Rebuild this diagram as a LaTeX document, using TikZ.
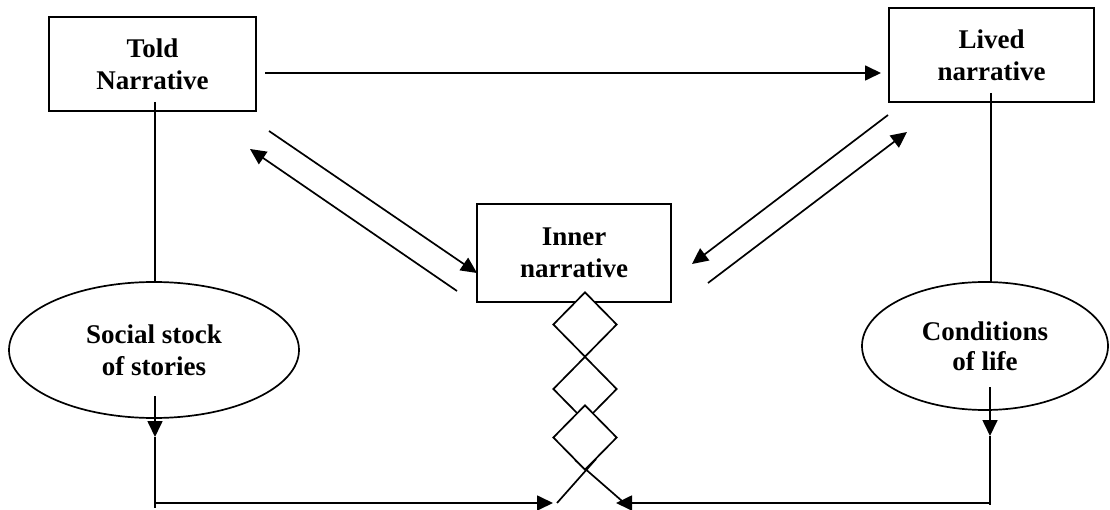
\documentclass[tikz,border=0pt]{standalone}
\usepackage{fontspec}
\setmainfont{Liberation Serif}
\usetikzlibrary{arrows.meta,shapes.geometric}
\tikzset{
  lbl/.style={font=\fontsize{27}{32}\selectfont\bfseries, align=center},
  boxn/.style={lbl, draw, line width=1.7pt, inner sep=0pt},
  ell/.style={lbl, draw, ellipse, line width=1.7pt, inner sep=0pt},
  dia/.style={draw, fill=white, line width=1.7pt, inner sep=0pt, minimum width=64pt, minimum height=65pt, diamond, shape aspect=1},
  ln/.style={line width=1.7pt},
  arr/.style={line width=1.7pt, -{Triangle[length=16pt,width=15pt]}}
}
\begin{document}
\begin{tikzpicture}[x=1pt,y=-1pt]
\useasboundingbox (0,0) rectangle (1110,510);
% boxes
\node[boxn, minimum width=207pt, minimum height=94pt] (told) at (152.5,64) {Told\\Narrative};
\node[boxn, minimum width=205pt, minimum height=94pt] (lived) at (991.5,55) {Lived\\narrative};
\node[boxn, minimum width=194pt, minimum height=98pt] (inner) at (574,253) {Inner\\narrative};
% ellipses
\node[ell, minimum width=290pt, minimum height=136pt] (social) at (154,350) {Social stock\\of stories};
\node[ell, minimum width=246pt, minimum height=128pt, font=\fontsize{27}{30}\selectfont\bfseries] (cond) at (985,346) {Conditions\\of life};
% vertical lines from boxes to ellipses
\coordinate (t1) at (155,102);
\coordinate (l1) at (991,93);
\draw[ln] (t1) -- (t1 |- social.north);
\draw[ln] (l1) -- (l1 |- cond.north);
% top arrow
\coordinate (h1) at (265,73);
\coordinate (h2) at (881,73);
\draw[arr] (h1) -- (h2);
% diagonal arrows
\coordinate (a1) at (269,131); \coordinate (a2) at (477,273);
\coordinate (b1) at (457,291); \coordinate (b2) at (250,149);
\coordinate (c1) at (888,115); \coordinate (c2) at (692,264);
\coordinate (d1) at (708,283); \coordinate (d2) at (907,132);
\draw[arr] (a1) -- (a2);
\draw[arr] (b1) -- (b2);
\draw[arr] (c1) -- (c2);
\draw[arr] (d1) -- (d2);
% X lines below diamonds
\coordinate (x1) at (575,460); \coordinate (x2) at (622,501);
\coordinate (y1) at (596,459); \coordinate (y2) at (557,503);
\draw[ln] (x1) -- (x2);
\draw[ln] (y1) -- (y2);
% diamonds
\node[dia] (d1n) at (585,324.5) {};
\node[dia] (d2n) at (585,389) {};
\node[dia] (d3n) at (585,437.5) {};
% bottom connectors
\coordinate (s1) at (155,396);
\coordinate (s2) at (155,437);
\coordinate (s3) at (155,503);
\coordinate (s4) at (553,503);
\draw[arr] (s1) -- (s2);
\draw[ln] (s2) -- (155,508);
\draw[arr] (s3) -- (s4);
\coordinate (r1) at (990,387);
\coordinate (r2) at (990,436);
\coordinate (r3) at (990,503);
\coordinate (r4) at (616,503);
\draw[arr] (r1) -- (r2);
\draw[ln] (r2) -- (990,505);
\draw[arr] (r3) -- (r4);
\end{tikzpicture}
\end{document}
